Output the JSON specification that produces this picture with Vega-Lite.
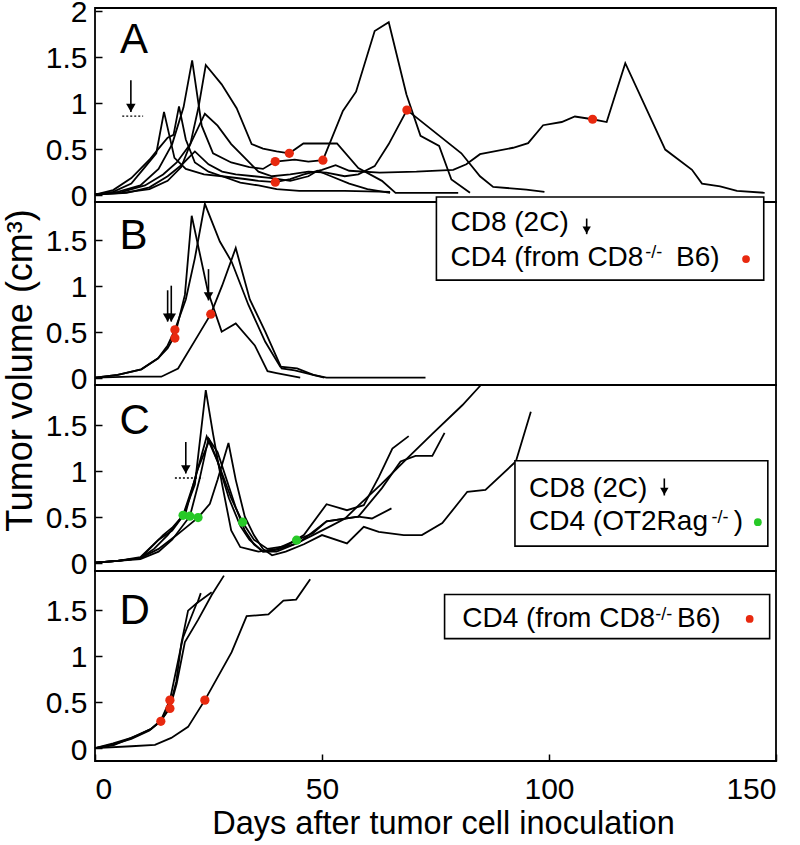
{
  "$schema": "https://vega.github.io/schema/vega-lite/v6.json",
  "padding": {"left": 1, "top": -4, "right": 0, "bottom": 0},
  "background": "white",
  "config": {
    "font": "Liberation Sans",
    "view": {"stroke": "black", "strokeWidth": 1.8},
    "axis": {"domain": false, "grid": false, "tickSize": -7, "tickColor": "black", "tickWidth": 1.5, "labelFontSize": 30, "labelColor": "black", "labelFont": "Liberation Sans", "titleFont": "Liberation Sans", "titleFontWeight": "normal", "titleColor": "black", "titleFontSize": 32}
  },
  "datasets": {
    "curves": [
      {"panel":"A","mouse":"a1","day":0,"vol":0},{"panel":"A","mouse":"a1","day":4,"vol":0.03},{"panel":"A","mouse":"a1","day":8,"vol":0.12},{"panel":"A","mouse":"a1","day":11,"vol":0.3},{"panel":"A","mouse":"a1","day":13.5,"vol":0.45},{"panel":"A","mouse":"a1","day":15.2,"vol":0.9},{"panel":"A","mouse":"a1","day":17.5,"vol":0.4},{"panel":"A","mouse":"a1","day":20,"vol":0.28},{"panel":"A","mouse":"a1","day":24,"vol":0.22},{"panel":"A","mouse":"a1","day":28,"vol":0.2},{"panel":"A","mouse":"a1","day":33,"vol":0.17},{"panel":"A","mouse":"a1","day":36,"vol":0.15},{"panel":"A","mouse":"a1","day":39.7,"vol":0.136},{"panel":"A","mouse":"a1","day":43,"vol":0.17},{"panel":"A","mouse":"a1","day":46,"vol":0.22},{"panel":"A","mouse":"a1","day":50,"vol":0.27},{"panel":"A","mouse":"a1","day":53,"vol":0.32},{"panel":"A","mouse":"a1","day":56,"vol":0.26},{"panel":"A","mouse":"a1","day":62.7,"vol":0.24},{"panel":"A","mouse":"a1","day":70.8,"vol":0.25},{"panel":"A","mouse":"a1","day":78.9,"vol":0.27},{"panel":"A","mouse":"a1","day":81.8,"vol":0.33},{"panel":"A","mouse":"a1","day":84.8,"vol":0.44},{"panel":"A","mouse":"a1","day":92.1,"vol":0.51},{"panel":"A","mouse":"a1","day":95.4,"vol":0.56},{"panel":"A","mouse":"a1","day":98.7,"vol":0.755},{"panel":"A","mouse":"a1","day":102.8,"vol":0.79},{"panel":"A","mouse":"a1","day":105.7,"vol":0.85},{"panel":"A","mouse":"a1","day":109.6,"vol":0.82},{"panel":"A","mouse":"a1","day":112.7,"vol":0.79},{"panel":"A","mouse":"a1","day":116.8,"vol":1.43},{"panel":"A","mouse":"a1","day":125.6,"vol":0.49},{"panel":"A","mouse":"a1","day":131.5,"vol":0.27},{"panel":"A","mouse":"a1","day":133.7,"vol":0.12},{"panel":"A","mouse":"a1","day":137.7,"vol":0.09},{"panel":"A","mouse":"a1","day":141.4,"vol":0.04},{"panel":"A","mouse":"a1","day":147.5,"vol":0.02},
      {"panel":"A","mouse":"a2","day":0,"vol":0},{"panel":"A","mouse":"a2","day":5,"vol":0.03},{"panel":"A","mouse":"a2","day":10,"vol":0.1},{"panel":"A","mouse":"a2","day":14,"vol":0.28},{"panel":"A","mouse":"a2","day":17,"vol":0.55},{"panel":"A","mouse":"a2","day":19.5,"vol":0.95},{"panel":"A","mouse":"a2","day":21.4,"vol":1.46},{"panel":"A","mouse":"a2","day":23.5,"vol":0.75},{"panel":"A","mouse":"a2","day":26,"vol":0.45},{"panel":"A","mouse":"a2","day":30,"vol":0.35},{"panel":"A","mouse":"a2","day":34,"vol":0.3},{"panel":"A","mouse":"a2","day":37,"vol":0.28},{"panel":"A","mouse":"a2","day":39.7,"vol":0.36},{"panel":"A","mouse":"a2","day":44,"vol":0.38},{"panel":"A","mouse":"a2","day":47,"vol":0.36},{"panel":"A","mouse":"a2","day":50.2,"vol":0.375},{"panel":"A","mouse":"a2","day":54.6,"vol":0.91},{"panel":"A","mouse":"a2","day":57.5,"vol":1.12},{"panel":"A","mouse":"a2","day":61.6,"vol":1.78},{"panel":"A","mouse":"a2","day":64.7,"vol":1.875},{"panel":"A","mouse":"a2","day":68.6,"vol":1.09},{"panel":"A","mouse":"a2","day":71.7,"vol":0.64},{"panel":"A","mouse":"a2","day":75.8,"vol":0.53},{"panel":"A","mouse":"a2","day":78.5,"vol":0.165},{"panel":"A","mouse":"a2","day":82.6,"vol":0.02},
      {"panel":"A","mouse":"a3","day":0,"vol":0},{"panel":"A","mouse":"a3","day":6,"vol":0.02},{"panel":"A","mouse":"a3","day":12,"vol":0.06},{"panel":"A","mouse":"a3","day":16,"vol":0.15},{"panel":"A","mouse":"a3","day":19,"vol":0.3},{"panel":"A","mouse":"a3","day":21,"vol":0.55},{"panel":"A","mouse":"a3","day":22.8,"vol":0.95},{"panel":"A","mouse":"a3","day":24.4,"vol":1.41},{"panel":"A","mouse":"a3","day":27.9,"vol":1.2},{"panel":"A","mouse":"a3","day":31.2,"vol":0.94},{"panel":"A","mouse":"a3","day":34.5,"vol":0.55},{"panel":"A","mouse":"a3","day":37,"vol":0.5},{"panel":"A","mouse":"a3","day":40,"vol":0.47},{"panel":"A","mouse":"a3","day":42.8,"vol":0.45},{"panel":"A","mouse":"a3","day":45.9,"vol":0.556},{"panel":"A","mouse":"a3","day":53.3,"vol":0.556},{"panel":"A","mouse":"a3","day":58,"vol":0.29},{"panel":"A","mouse":"a3","day":63.2,"vol":0.15},{"panel":"A","mouse":"a3","day":66.2,"vol":0.02},{"panel":"A","mouse":"a3","day":80,"vol":0.02},
      {"panel":"A","mouse":"a4","day":0,"vol":0},{"panel":"A","mouse":"a4","day":6,"vol":0.03},{"panel":"A","mouse":"a4","day":11,"vol":0.1},{"panel":"A","mouse":"a4","day":15,"vol":0.22},{"panel":"A","mouse":"a4","day":18,"vol":0.35},{"panel":"A","mouse":"a4","day":21,"vol":0.55},{"panel":"A","mouse":"a4","day":24.2,"vol":0.88},{"panel":"A","mouse":"a4","day":27,"vol":0.75},{"panel":"A","mouse":"a4","day":30,"vol":0.55},{"panel":"A","mouse":"a4","day":33,"vol":0.4},{"panel":"A","mouse":"a4","day":36,"vol":0.25},{"panel":"A","mouse":"a4","day":39,"vol":0.2},{"panel":"A","mouse":"a4","day":43,"vol":0.22},{"panel":"A","mouse":"a4","day":47,"vol":0.25},{"panel":"A","mouse":"a4","day":51,"vol":0.24},{"panel":"A","mouse":"a4","day":55,"vol":0.2},{"panel":"A","mouse":"a4","day":58,"vol":0.22},{"panel":"A","mouse":"a4","day":61.6,"vol":0.31},{"panel":"A","mouse":"a4","day":64.7,"vol":0.55},{"panel":"A","mouse":"a4","day":68.7,"vol":0.92},{"panel":"A","mouse":"a4","day":70,"vol":0.87},{"panel":"A","mouse":"a4","day":80.7,"vol":0.45},{"panel":"A","mouse":"a4","day":84.8,"vol":0.2},{"panel":"A","mouse":"a4","day":87.7,"vol":0.085},{"panel":"A","mouse":"a4","day":95,"vol":0.055},{"panel":"A","mouse":"a4","day":99,"vol":0.03},
      {"panel":"A","mouse":"a5","day":0,"vol":0},{"panel":"A","mouse":"a5","day":7,"vol":0.02},{"panel":"A","mouse":"a5","day":12,"vol":0.08},{"panel":"A","mouse":"a5","day":16,"vol":0.2},{"panel":"A","mouse":"a5","day":19,"vol":0.32},{"panel":"A","mouse":"a5","day":22,"vol":0.47},{"panel":"A","mouse":"a5","day":25,"vol":0.33},{"panel":"A","mouse":"a5","day":28,"vol":0.25},{"panel":"A","mouse":"a5","day":31,"vol":0.22},{"panel":"A","mouse":"a5","day":35,"vol":0.2},{"panel":"A","mouse":"a5","day":39,"vol":0.18},{"panel":"A","mouse":"a5","day":43,"vol":0.15},{"panel":"A","mouse":"a5","day":47,"vol":0.2},{"panel":"A","mouse":"a5","day":49,"vol":0.26},{"panel":"A","mouse":"a5","day":52,"vol":0.2},{"panel":"A","mouse":"a5","day":56,"vol":0.12},{"panel":"A","mouse":"a5","day":60,"vol":0.06},{"panel":"A","mouse":"a5","day":65,"vol":0.02},
      {"panel":"A","mouse":"a6","day":0,"vol":0},{"panel":"A","mouse":"a6","day":4,"vol":0.05},{"panel":"A","mouse":"a6","day":8,"vol":0.18},{"panel":"A","mouse":"a6","day":12,"vol":0.38},{"panel":"A","mouse":"a6","day":14,"vol":0.5},{"panel":"A","mouse":"a6","day":16,"vol":0.62},{"panel":"A","mouse":"a6","day":17.3,"vol":0.65},{"panel":"A","mouse":"a6","day":18.5,"vol":0.96},{"panel":"A","mouse":"a6","day":20,"vol":0.6},{"panel":"A","mouse":"a6","day":22,"vol":0.35},{"panel":"A","mouse":"a6","day":25,"vol":0.25},{"panel":"A","mouse":"a6","day":28,"vol":0.2},{"panel":"A","mouse":"a6","day":32,"vol":0.13},{"panel":"A","mouse":"a6","day":36,"vol":0.1},{"panel":"A","mouse":"a6","day":40,"vol":0.06},{"panel":"A","mouse":"a6","day":45,"vol":0.04},{"panel":"A","mouse":"a6","day":55,"vol":0.04},{"panel":"A","mouse":"a6","day":65,"vol":0.03},
      {"panel":"B","mouse":"b1","day":0,"vol":0},{"panel":"B","mouse":"b1","day":5,"vol":0.03},{"panel":"B","mouse":"b1","day":10.2,"vol":0.09},{"panel":"B","mouse":"b1","day":13.9,"vol":0.21},{"panel":"B","mouse":"b1","day":16,"vol":0.32},{"panel":"B","mouse":"b1","day":17.6,"vol":0.46},{"panel":"B","mouse":"b1","day":19.8,"vol":0.9},{"panel":"B","mouse":"b1","day":21.3,"vol":1.76},{"panel":"B","mouse":"b1","day":24.9,"vol":0.93},{"panel":"B","mouse":"b1","day":27.9,"vol":0.5},{"panel":"B","mouse":"b1","day":31,"vol":0.59},{"panel":"B","mouse":"b1","day":35.2,"vol":0.35},{"panel":"B","mouse":"b1","day":38,"vol":0.07},{"panel":"B","mouse":"b1","day":40,"vol":0.05},{"panel":"B","mouse":"b1","day":45.2,"vol":0},
      {"panel":"B","mouse":"b2","day":0,"vol":0},{"panel":"B","mouse":"b2","day":5,"vol":0.03},{"panel":"B","mouse":"b2","day":10.2,"vol":0.09},{"panel":"B","mouse":"b2","day":13.9,"vol":0.21},{"panel":"B","mouse":"b2","day":16,"vol":0.35},{"panel":"B","mouse":"b2","day":17.6,"vol":0.52},{"panel":"B","mouse":"b2","day":20,"vol":0.85},{"panel":"B","mouse":"b2","day":22,"vol":1.3},{"panel":"B","mouse":"b2","day":24.2,"vol":1.89},{"panel":"B","mouse":"b2","day":27.5,"vol":1.48},{"panel":"B","mouse":"b2","day":30.1,"vol":1.26},{"panel":"B","mouse":"b2","day":33.8,"vol":0.79},{"panel":"B","mouse":"b2","day":37.5,"vol":0.39},{"panel":"B","mouse":"b2","day":40.8,"vol":0.12},{"panel":"B","mouse":"b2","day":44.5,"vol":0.1},{"panel":"B","mouse":"b2","day":48.1,"vol":0.03},{"panel":"B","mouse":"b2","day":51,"vol":0},{"panel":"B","mouse":"b2","day":72.8,"vol":0},
      {"panel":"B","mouse":"b3","day":0,"vol":0},{"panel":"B","mouse":"b3","day":8,"vol":0.01},{"panel":"B","mouse":"b3","day":14.6,"vol":0.01},{"panel":"B","mouse":"b3","day":18.3,"vol":0.1},{"panel":"B","mouse":"b3","day":22.7,"vol":0.46},{"panel":"B","mouse":"b3","day":25.5,"vol":0.69},{"panel":"B","mouse":"b3","day":28,"vol":1.0},{"panel":"B","mouse":"b3","day":31,"vol":1.41},{"panel":"B","mouse":"b3","day":34.1,"vol":0.85},{"panel":"B","mouse":"b3","day":37.5,"vol":0.5},{"panel":"B","mouse":"b3","day":41.1,"vol":0.1},{"panel":"B","mouse":"b3","day":44,"vol":0.08},{"panel":"B","mouse":"b3","day":50.5,"vol":0},
      {"panel":"C","mouse":"c1","day":0,"vol":0},{"panel":"C","mouse":"c1","day":5,"vol":0.02},{"panel":"C","mouse":"c1","day":10,"vol":0.05},{"panel":"C","mouse":"c1","day":13,"vol":0.2},{"panel":"C","mouse":"c1","day":15,"vol":0.3},{"panel":"C","mouse":"c1","day":17,"vol":0.38},{"panel":"C","mouse":"c1","day":19.5,"vol":0.52},{"panel":"C","mouse":"c1","day":22,"vol":0.85},{"panel":"C","mouse":"c1","day":24.4,"vol":1.875},{"panel":"C","mouse":"c1","day":26,"vol":1.4},{"panel":"C","mouse":"c1","day":28,"vol":0.85},{"panel":"C","mouse":"c1","day":30,"vol":0.35},{"panel":"C","mouse":"c1","day":32,"vol":0.17},{"panel":"C","mouse":"c1","day":36,"vol":0.12},{"panel":"C","mouse":"c1","day":40,"vol":0.15},{"panel":"C","mouse":"c1","day":44.4,"vol":0.245},{"panel":"C","mouse":"c1","day":48,"vol":0.32},{"panel":"C","mouse":"c1","day":51,"vol":0.45},{"panel":"C","mouse":"c1","day":55,"vol":0.48},{"panel":"C","mouse":"c1","day":58,"vol":0.5},{"panel":"C","mouse":"c1","day":61,"vol":0.48},{"panel":"C","mouse":"c1","day":65.3,"vol":0.59},
      {"panel":"C","mouse":"c2","day":0,"vol":0},{"panel":"C","mouse":"c2","day":5,"vol":0.02},{"panel":"C","mouse":"c2","day":10,"vol":0.05},{"panel":"C","mouse":"c2","day":13,"vol":0.15},{"panel":"C","mouse":"c2","day":16,"vol":0.3},{"panel":"C","mouse":"c2","day":19.4,"vol":0.515},{"panel":"C","mouse":"c2","day":22,"vol":0.9},{"panel":"C","mouse":"c2","day":24.6,"vol":1.37},{"panel":"C","mouse":"c2","day":27,"vol":1.1},{"panel":"C","mouse":"c2","day":30,"vol":0.7},{"panel":"C","mouse":"c2","day":32.5,"vol":0.44},{"panel":"C","mouse":"c2","day":35,"vol":0.25},{"panel":"C","mouse":"c2","day":38,"vol":0.15},{"panel":"C","mouse":"c2","day":42,"vol":0.18},{"panel":"C","mouse":"c2","day":46,"vol":0.3},{"panel":"C","mouse":"c2","day":51,"vol":0.635},{"panel":"C","mouse":"c2","day":55.5,"vol":0.57},{"panel":"C","mouse":"c2","day":59.2,"vol":0.625},{"panel":"C","mouse":"c2","day":62.5,"vol":0.93},{"panel":"C","mouse":"c2","day":65.5,"vol":1.24},{"panel":"C","mouse":"c2","day":69.1,"vol":1.375},
      {"panel":"C","mouse":"c3","day":0,"vol":0},{"panel":"C","mouse":"c3","day":5,"vol":0.02},{"panel":"C","mouse":"c3","day":10,"vol":0.04},{"panel":"C","mouse":"c3","day":14,"vol":0.12},{"panel":"C","mouse":"c3","day":17,"vol":0.25},{"panel":"C","mouse":"c3","day":20.9,"vol":0.505},{"panel":"C","mouse":"c3","day":23,"vol":0.9},{"panel":"C","mouse":"c3","day":25,"vol":1.35},{"panel":"C","mouse":"c3","day":27,"vol":1.2},{"panel":"C","mouse":"c3","day":29,"vol":0.9},{"panel":"C","mouse":"c3","day":31,"vol":0.6},{"panel":"C","mouse":"c3","day":33,"vol":0.35},{"panel":"C","mouse":"c3","day":35,"vol":0.2},{"panel":"C","mouse":"c3","day":37,"vol":0.12},{"panel":"C","mouse":"c3","day":40,"vol":0.12},{"panel":"C","mouse":"c3","day":44,"vol":0.2},{"panel":"C","mouse":"c3","day":48,"vol":0.3},{"panel":"C","mouse":"c3","day":52,"vol":0.4},{"panel":"C","mouse":"c3","day":55.1,"vol":0.48},{"panel":"C","mouse":"c3","day":58,"vol":0.62},{"panel":"C","mouse":"c3","day":63,"vol":0.85},{"panel":"C","mouse":"c3","day":69.1,"vol":1.15},{"panel":"C","mouse":"c3","day":74.3,"vol":1.4},{"panel":"C","mouse":"c3","day":80.9,"vol":1.71},{"panel":"C","mouse":"c3","day":85,"vol":1.93},
      {"panel":"C","mouse":"c4","day":0,"vol":0},{"panel":"C","mouse":"c4","day":5,"vol":0.02},{"panel":"C","mouse":"c4","day":10,"vol":0.05},{"panel":"C","mouse":"c4","day":14,"vol":0.15},{"panel":"C","mouse":"c4","day":18,"vol":0.3},{"panel":"C","mouse":"c4","day":22.7,"vol":0.49},{"panel":"C","mouse":"c4","day":25.3,"vol":0.64},{"panel":"C","mouse":"c4","day":27,"vol":0.9},{"panel":"C","mouse":"c4","day":29.4,"vol":1.3},{"panel":"C","mouse":"c4","day":31,"vol":0.9},{"panel":"C","mouse":"c4","day":33,"vol":0.5},{"panel":"C","mouse":"c4","day":35,"vol":0.3},{"panel":"C","mouse":"c4","day":37,"vol":0.15},{"panel":"C","mouse":"c4","day":39,"vol":0.08},{"panel":"C","mouse":"c4","day":42,"vol":0.12},{"panel":"C","mouse":"c4","day":46,"vol":0.2},{"panel":"C","mouse":"c4","day":50,"vol":0.3},{"panel":"C","mouse":"c4","day":55.5,"vol":0.21},{"panel":"C","mouse":"c4","day":59.2,"vol":0.39},{"panel":"C","mouse":"c4","day":62.5,"vol":0.335},{"panel":"C","mouse":"c4","day":68,"vol":0.3},{"panel":"C","mouse":"c4","day":72,"vol":0.3},{"panel":"C","mouse":"c4","day":76.5,"vol":0.43},{"panel":"C","mouse":"c4","day":82,"vol":0.77},{"panel":"C","mouse":"c4","day":86,"vol":0.79},{"panel":"C","mouse":"c4","day":92.7,"vol":1.1},{"panel":"C","mouse":"c4","day":96,"vol":1.64},
      {"panel":"C","mouse":"c5","day":0,"vol":0},{"panel":"C","mouse":"c5","day":5,"vol":0.02},{"panel":"C","mouse":"c5","day":10,"vol":0.06},{"panel":"C","mouse":"c5","day":14,"vol":0.25},{"panel":"C","mouse":"c5","day":17,"vol":0.35},{"panel":"C","mouse":"c5","day":20,"vol":0.55},{"panel":"C","mouse":"c5","day":22.5,"vol":1.0},{"panel":"C","mouse":"c5","day":25.2,"vol":1.33},{"panel":"C","mouse":"c5","day":27,"vol":1.1},{"panel":"C","mouse":"c5","day":29.5,"vol":0.7},{"panel":"C","mouse":"c5","day":32,"vol":0.4},{"panel":"C","mouse":"c5","day":34,"vol":0.25},{"panel":"C","mouse":"c5","day":37,"vol":0.12},{"panel":"C","mouse":"c5","day":40,"vol":0.14},{"panel":"C","mouse":"c5","day":45,"vol":0.22},{"panel":"C","mouse":"c5","day":51,"vol":0.45},{"panel":"C","mouse":"c5","day":58,"vol":0.5},{"panel":"C","mouse":"c5","day":63.2,"vol":0.81},{"panel":"C","mouse":"c5","day":67.3,"vol":1.1},{"panel":"C","mouse":"c5","day":70.6,"vol":1.16},{"panel":"C","mouse":"c5","day":74.3,"vol":1.16},{"panel":"C","mouse":"c5","day":77,"vol":1.41},
      {"panel":"D","mouse":"d1","day":0,"vol":0},{"panel":"D","mouse":"d1","day":4,"vol":0.05},{"panel":"D","mouse":"d1","day":8,"vol":0.11},{"panel":"D","mouse":"d1","day":12.4,"vol":0.21},{"panel":"D","mouse":"d1","day":14.5,"vol":0.29},{"panel":"D","mouse":"d1","day":16.5,"vol":0.45},{"panel":"D","mouse":"d1","day":17.9,"vol":0.72},{"panel":"D","mouse":"d1","day":19,"vol":1.13},{"panel":"D","mouse":"d1","day":20.5,"vol":1.49},{"panel":"D","mouse":"d1","day":22.6,"vol":1.58},{"panel":"D","mouse":"d1","day":23.3,"vol":1.68},
      {"panel":"D","mouse":"d2","day":0,"vol":0},{"panel":"D","mouse":"d2","day":4,"vol":0.04},{"panel":"D","mouse":"d2","day":8,"vol":0.1},{"panel":"D","mouse":"d2","day":12,"vol":0.19},{"panel":"D","mouse":"d2","day":14.5,"vol":0.3},{"panel":"D","mouse":"d2","day":16.5,"vol":0.52},{"panel":"D","mouse":"d2","day":18.7,"vol":1.04},{"panel":"D","mouse":"d2","day":19.4,"vol":1.2},{"panel":"D","mouse":"d2","day":22.4,"vol":1.57},{"panel":"D","mouse":"d2","day":25.7,"vol":1.69},
      {"panel":"D","mouse":"d3","day":0,"vol":0},{"panel":"D","mouse":"d3","day":4,"vol":0.03},{"panel":"D","mouse":"d3","day":9.5,"vol":0.14},{"panel":"D","mouse":"d3","day":12.4,"vol":0.21},{"panel":"D","mouse":"d3","day":14.5,"vol":0.3},{"panel":"D","mouse":"d3","day":16.5,"vol":0.43},{"panel":"D","mouse":"d3","day":18,"vol":0.7},{"panel":"D","mouse":"d3","day":19.8,"vol":1.15},{"panel":"D","mouse":"d3","day":22.7,"vol":1.39},{"panel":"D","mouse":"d3","day":25.7,"vol":1.66},{"panel":"D","mouse":"d3","day":28.4,"vol":1.87},
      {"panel":"D","mouse":"d4","day":0,"vol":0},{"panel":"D","mouse":"d4","day":8,"vol":0.02},{"panel":"D","mouse":"d4","day":13.2,"vol":0.035},{"panel":"D","mouse":"d4","day":16.8,"vol":0.11},{"panel":"D","mouse":"d4","day":20.5,"vol":0.23},{"panel":"D","mouse":"d4","day":24.2,"vol":0.52},{"panel":"D","mouse":"d4","day":30.1,"vol":1.04},{"panel":"D","mouse":"d4","day":33.4,"vol":1.43},{"panel":"D","mouse":"d4","day":38.2,"vol":1.45},{"panel":"D","mouse":"d4","day":41.5,"vol":1.6},{"panel":"D","mouse":"d4","day":44.3,"vol":1.61},{"panel":"D","mouse":"d4","day":47.4,"vol":1.83}
    ],
    "dots": [
      {"panel":"A","day":39.7,"vol":0.36,"cells":"CD4 (from CD8-/- B6)"},{"panel":"A","day":42.8,"vol":0.45,"cells":"CD4 (from CD8-/- B6)"},{"panel":"A","day":50.2,"vol":0.375,"cells":"CD4 (from CD8-/- B6)"},{"panel":"A","day":39.7,"vol":0.136,"cells":"CD4 (from CD8-/- B6)"},{"panel":"A","day":68.7,"vol":0.92,"cells":"CD4 (from CD8-/- B6)"},{"panel":"A","day":109.6,"vol":0.82,"cells":"CD4 (from CD8-/- B6)"},
      {"panel":"B","day":17.6,"vol":0.52,"cells":"CD4 (from CD8-/- B6)"},{"panel":"B","day":17.6,"vol":0.43,"cells":"CD4 (from CD8-/- B6)"},{"panel":"B","day":25.5,"vol":0.69,"cells":"CD4 (from CD8-/- B6)"},
      {"panel":"C","day":19.4,"vol":0.515,"cells":"CD4 (OT2Rag-/-)"},{"panel":"C","day":20.9,"vol":0.505,"cells":"CD4 (OT2Rag-/-)"},{"panel":"C","day":22.7,"vol":0.49,"cells":"CD4 (OT2Rag-/-)"},{"panel":"C","day":32.5,"vol":0.44,"cells":"CD4 (OT2Rag-/-)"},{"panel":"C","day":44.4,"vol":0.245,"cells":"CD4 (OT2Rag-/-)"},
      {"panel":"D","day":14.5,"vol":0.29,"cells":"CD4 (from CD8-/- B6)"},{"panel":"D","day":16.5,"vol":0.52,"cells":"CD4 (from CD8-/- B6)"},{"panel":"D","day":16.5,"vol":0.43,"cells":"CD4 (from CD8-/- B6)"},{"panel":"D","day":24.2,"vol":0.52,"cells":"CD4 (from CD8-/- B6)"}
    ],
    "arrows": [
      {"panel":"A","day":7.9,"top":1.245,"tip":0.9},
      {"panel":"B","day":16.0,"top":0.95,"tip":0.61},{"panel":"B","day":16.8,"top":1.0,"tip":0.61},{"panel":"B","day":25.0,"top":1.18,"tip":0.84},
      {"panel":"C","day":20.0,"top":1.31,"tip":0.97},
      {"panel":"B","day":108.3,"top":1.73,"tip":1.56},
      {"panel":"C","day":125.4,"top":0.915,"tip":0.73}
    ],
    "dotted": [
      {"panel":"A","day":6,"day2":10.6,"vol":0.853},
      {"panel":"C","day":17.6,"day2":23.8,"vol":0.92}
    ],
    "letters": [
      {"panel":"A","day":5.5,"vol":1.54,"label":"A"},
      {"panel":"B","day":5.4,"vol":1.4,"label":"B"},
      {"panel":"C","day":5.4,"vol":1.4,"label":"C"},
      {"panel":"D","day":5.4,"vol":1.35,"label":"D"}
    ],
    "legendBox": [
      {"panel":"B","x1":75.2,"x2":147.3,"y1":1.965,"y2":1.06},
      {"panel":"C","x1":92.5,"x2":148.2,"y1":1.107,"y2":0.18},
      {"panel":"D","x1":77,"x2":148.6,"y1":1.665,"y2":1.187}
    ],
    "legendText": [
      {"panel":"B","day":78.3,"vol":1.59,"text":"CD8 (2C)"},
      {"panel":"B","day":78.3,"vol":1.21,"text":"CD4 (from CD8"},
      {"panel":"B","day":128,"vol":1.21,"text":"B6)"},
      {"panel":"C","day":95.6,"vol":0.715,"text":"CD8 (2C)"},
      {"panel":"C","day":95.6,"vol":0.36,"text":"CD4 (OT2Rag"},
      {"panel":"C","day":140.7,"vol":0.36,"text":")"},
      {"panel":"D","day":80.9,"vol":1.31,"text":"CD4 (from CD8"},
      {"panel":"D","day":128.2,"vol":1.31,"text":"B6)"}
    ],
    "legendSup": [
      {"panel":"B","day":121.2,"vol":1.3,"text":"-/-"},
      {"panel":"C","day":135.8,"vol":0.43,"text":"-/-"},
      {"panel":"D","day":123.4,"vol":1.386,"text":"-/-"}
    ],
    "legendDots": [
      {"panel":"B","day":143.4,"vol":1.29,"cells":"CD4 (from CD8-/- B6)"},
      {"panel":"C","day":146,"vol":0.44,"cells":"CD4 (OT2Rag-/-)"},
      {"panel":"D","day":144.2,"vol":1.4,"cells":"CD4 (from CD8-/- B6)"}
    ]
  },
  "vconcat": [
    {
      "width": 681, "height": 194,
      "layer": [
        {"data": {"name": "curves"}, "transform": [{"filter": "datum.panel === 'A'"}], "mark": {"type": "line", "color": "black", "strokeWidth": 1.8}, "encoding": {"x": {"field": "day", "type": "quantitative", "scale": {"domain": [0, 150], "nice": false}, "axis": null}, "y": {"field": "vol", "type": "quantitative", "scale": {"domain": [-0.08, 2.03], "nice": false, "zero": false}, "axis": {"values": [0, 0.5, 1, 1.5, 2], "format": "~g", "title": null, "labelPadding": 15, "labelOffset": 2}}, "detail": {"field": "mouse"}}},
        {"data": {"name": "dotted"}, "transform": [{"filter": "datum.panel === 'A'"}], "mark": {"type": "rule", "color": "black", "strokeWidth": 1.3, "strokeDash": [2, 2]}, "encoding": {"x": {"field": "day", "type": "quantitative"}, "x2": {"field": "day2"}, "y": {"field": "vol", "type": "quantitative"}}},
        {"data": {"name": "arrows"}, "transform": [{"filter": "datum.panel === 'A'"}], "mark": {"type": "rule", "color": "black", "strokeWidth": 1.6}, "encoding": {"x": {"field": "day", "type": "quantitative"}, "y": {"field": "top", "type": "quantitative"}, "y2": {"field": "tip"}}},
        {"data": {"name": "arrows"}, "transform": [{"filter": "datum.panel === 'A'"}], "mark": {"type": "point", "shape": "triangle-down", "filled": true, "color": "black", "opacity": 1, "size": 90, "yOffset": -4}, "encoding": {"x": {"field": "day", "type": "quantitative"}, "y": {"field": "tip", "type": "quantitative"}}},
        {"data": {"name": "dots"}, "transform": [{"filter": "datum.panel === 'A'"}], "mark": {"type": "circle", "opacity": 1, "size": 85}, "encoding": {"x": {"field": "day", "type": "quantitative"}, "y": {"field": "vol", "type": "quantitative"}, "color": {"field": "cells", "type": "nominal", "scale": {"domain": ["CD4 (from CD8-/- B6)", "CD4 (OT2Rag-/-)"], "range": ["#e8290f", "#27c927"]}, "legend": null}}},
        {"data": {"name": "letters"}, "transform": [{"filter": "datum.panel === 'A'"}], "mark": {"type": "text", "fontSize": 42, "align": "left", "baseline": "alphabetic", "color": "black"}, "encoding": {"x": {"field": "day", "type": "quantitative"}, "y": {"field": "vol", "type": "quantitative"}, "text": {"field": "label"}}}
      ]
    },
    {
      "width": 681, "height": 183,
      "layer": [
        {"data": {"name": "curves"}, "transform": [{"filter": "datum.panel === 'B'"}], "mark": {"type": "line", "color": "black", "strokeWidth": 1.8}, "encoding": {"x": {"field": "day", "type": "quantitative", "scale": {"domain": [0, 150], "nice": false}, "axis": null}, "y": {"field": "vol", "type": "quantitative", "scale": {"domain": [-0.08, 1.91], "nice": false, "zero": false}, "axis": {"values": [0, 0.5, 1, 1.5], "format": "~g", "title": null, "labelPadding": 15, "labelOffset": 2}}, "detail": {"field": "mouse"}}},
        {"data": {"name": "arrows"}, "transform": [{"filter": "datum.panel === 'B' && datum.day < 100"}], "mark": {"type": "rule", "color": "black", "strokeWidth": 1.6}, "encoding": {"x": {"field": "day", "type": "quantitative"}, "y": {"field": "top", "type": "quantitative"}, "y2": {"field": "tip"}}},
        {"data": {"name": "arrows"}, "transform": [{"filter": "datum.panel === 'B' && datum.day < 100"}], "mark": {"type": "point", "shape": "triangle-down", "filled": true, "color": "black", "opacity": 1, "size": 90, "yOffset": -4}, "encoding": {"x": {"field": "day", "type": "quantitative"}, "y": {"field": "tip", "type": "quantitative"}}},
        {"data": {"name": "dots"}, "transform": [{"filter": "datum.panel === 'B'"}], "mark": {"type": "circle", "opacity": 1, "size": 85}, "encoding": {"x": {"field": "day", "type": "quantitative"}, "y": {"field": "vol", "type": "quantitative"}, "color": {"field": "cells", "type": "nominal", "scale": {"domain": ["CD4 (from CD8-/- B6)", "CD4 (OT2Rag-/-)"], "range": ["#e8290f", "#27c927"]}, "legend": null}}},
        {"data": {"name": "letters"}, "transform": [{"filter": "datum.panel === 'B'"}], "mark": {"type": "text", "fontSize": 42, "align": "left", "baseline": "alphabetic", "color": "black"}, "encoding": {"x": {"field": "day", "type": "quantitative"}, "y": {"field": "vol", "type": "quantitative"}, "text": {"field": "label"}}},
        {"data": {"name": "legendBox"}, "transform": [{"filter": "datum.panel === 'B'"}], "mark": {"type": "rect", "fill": "white", "stroke": "black", "strokeWidth": 1.6}, "encoding": {"x": {"field": "x1", "type": "quantitative"}, "x2": {"field": "x2"}, "y": {"field": "y1", "type": "quantitative"}, "y2": {"field": "y2"}}},
        {"data": {"name": "legendText"}, "transform": [{"filter": "datum.panel === 'B'"}], "mark": {"type": "text", "fontSize": 28, "align": "left", "baseline": "alphabetic", "color": "black"}, "encoding": {"x": {"field": "day", "type": "quantitative"}, "y": {"field": "vol", "type": "quantitative"}, "text": {"field": "text"}}},
        {"data": {"name": "legendSup"}, "transform": [{"filter": "datum.panel === 'B'"}], "mark": {"type": "text", "fontSize": 18, "align": "left", "baseline": "alphabetic", "color": "black"}, "encoding": {"x": {"field": "day", "type": "quantitative"}, "y": {"field": "vol", "type": "quantitative"}, "text": {"field": "text"}}},
        {"data": {"name": "legendDots"}, "transform": [{"filter": "datum.panel === 'B'"}], "mark": {"type": "circle", "opacity": 1, "size": 60}, "encoding": {"x": {"field": "day", "type": "quantitative"}, "y": {"field": "vol", "type": "quantitative"}, "color": {"field": "cells", "type": "nominal", "scale": {"domain": ["CD4 (from CD8-/- B6)", "CD4 (OT2Rag-/-)"], "range": ["#e8290f", "#27c927"]}, "legend": null}}},
        {"data": {"name": "arrows"}, "transform": [{"filter": "datum.panel === 'B' && datum.day > 100"}], "mark": {"type": "rule", "color": "black", "strokeWidth": 1.6}, "encoding": {"x": {"field": "day", "type": "quantitative"}, "y": {"field": "top", "type": "quantitative"}, "y2": {"field": "tip"}}},
        {"data": {"name": "arrows"}, "transform": [{"filter": "datum.panel === 'B' && datum.day > 100"}], "mark": {"type": "point", "shape": "triangle-down", "filled": true, "color": "black", "opacity": 1, "size": 70, "yOffset": -4}, "encoding": {"x": {"field": "day", "type": "quantitative"}, "y": {"field": "tip", "type": "quantitative"}}}
      ]
    },
    {
      "width": 681, "height": 186,
      "layer": [
        {"data": {"name": "curves"}, "transform": [{"filter": "datum.panel === 'C'"}], "mark": {"type": "line", "color": "black", "strokeWidth": 1.8}, "encoding": {"x": {"field": "day", "type": "quantitative", "scale": {"domain": [0, 150], "nice": false}, "axis": null}, "y": {"field": "vol", "type": "quantitative", "scale": {"domain": [-0.09, 1.93], "nice": false, "zero": false}, "axis": {"values": [0, 0.5, 1, 1.5], "format": "~g", "title": "Tumor volume (cm³)", "titleFontSize": 36, "titleAnchor": "middle", "titleY": -15, "titlePadding": 6, "labelPadding": 15, "labelOffset": 2}}, "detail": {"field": "mouse"}}},
        {"data": {"name": "dotted"}, "transform": [{"filter": "datum.panel === 'C'"}], "mark": {"type": "rule", "color": "black", "strokeWidth": 1.3, "strokeDash": [2, 2]}, "encoding": {"x": {"field": "day", "type": "quantitative"}, "x2": {"field": "day2"}, "y": {"field": "vol", "type": "quantitative"}}},
        {"data": {"name": "arrows"}, "transform": [{"filter": "datum.panel === 'C' && datum.day < 100"}], "mark": {"type": "rule", "color": "black", "strokeWidth": 1.6}, "encoding": {"x": {"field": "day", "type": "quantitative"}, "y": {"field": "top", "type": "quantitative"}, "y2": {"field": "tip"}}},
        {"data": {"name": "arrows"}, "transform": [{"filter": "datum.panel === 'C' && datum.day < 100"}], "mark": {"type": "point", "shape": "triangle-down", "filled": true, "color": "black", "opacity": 1, "size": 90, "yOffset": -4}, "encoding": {"x": {"field": "day", "type": "quantitative"}, "y": {"field": "tip", "type": "quantitative"}}},
        {"data": {"name": "dots"}, "transform": [{"filter": "datum.panel === 'C'"}], "mark": {"type": "circle", "opacity": 1, "size": 85}, "encoding": {"x": {"field": "day", "type": "quantitative"}, "y": {"field": "vol", "type": "quantitative"}, "color": {"field": "cells", "type": "nominal", "scale": {"domain": ["CD4 (from CD8-/- B6)", "CD4 (OT2Rag-/-)"], "range": ["#e8290f", "#27c927"]}, "legend": null}}},
        {"data": {"name": "letters"}, "transform": [{"filter": "datum.panel === 'C'"}], "mark": {"type": "text", "fontSize": 42, "align": "left", "baseline": "alphabetic", "color": "black"}, "encoding": {"x": {"field": "day", "type": "quantitative"}, "y": {"field": "vol", "type": "quantitative"}, "text": {"field": "label"}}},
        {"data": {"name": "legendBox"}, "transform": [{"filter": "datum.panel === 'C'"}], "mark": {"type": "rect", "fill": "white", "stroke": "black", "strokeWidth": 1.6}, "encoding": {"x": {"field": "x1", "type": "quantitative"}, "x2": {"field": "x2"}, "y": {"field": "y1", "type": "quantitative"}, "y2": {"field": "y2"}}},
        {"data": {"name": "legendText"}, "transform": [{"filter": "datum.panel === 'C'"}], "mark": {"type": "text", "fontSize": 28, "align": "left", "baseline": "alphabetic", "color": "black"}, "encoding": {"x": {"field": "day", "type": "quantitative"}, "y": {"field": "vol", "type": "quantitative"}, "text": {"field": "text"}}},
        {"data": {"name": "legendSup"}, "transform": [{"filter": "datum.panel === 'C'"}], "mark": {"type": "text", "fontSize": 18, "align": "left", "baseline": "alphabetic", "color": "black"}, "encoding": {"x": {"field": "day", "type": "quantitative"}, "y": {"field": "vol", "type": "quantitative"}, "text": {"field": "text"}}},
        {"data": {"name": "legendDots"}, "transform": [{"filter": "datum.panel === 'C'"}], "mark": {"type": "circle", "opacity": 1, "size": 60}, "encoding": {"x": {"field": "day", "type": "quantitative"}, "y": {"field": "vol", "type": "quantitative"}, "color": {"field": "cells", "type": "nominal", "scale": {"domain": ["CD4 (from CD8-/- B6)", "CD4 (OT2Rag-/-)"], "range": ["#e8290f", "#27c927"]}, "legend": null}}},
        {"data": {"name": "arrows"}, "transform": [{"filter": "datum.panel === 'C' && datum.day > 100"}], "mark": {"type": "rule", "color": "black", "strokeWidth": 1.6}, "encoding": {"x": {"field": "day", "type": "quantitative"}, "y": {"field": "top", "type": "quantitative"}, "y2": {"field": "tip"}}},
        {"data": {"name": "arrows"}, "transform": [{"filter": "datum.panel === 'C' && datum.day > 100"}], "mark": {"type": "point", "shape": "triangle-down", "filled": true, "color": "black", "opacity": 1, "size": 70, "yOffset": -4}, "encoding": {"x": {"field": "day", "type": "quantitative"}, "y": {"field": "tip", "type": "quantitative"}}}
      ]
    },
    {
      "width": 681, "height": 190,
      "layer": [
        {"data": {"name": "curves"}, "transform": [{"filter": "datum.panel === 'D'"}], "mark": {"type": "line", "color": "black", "strokeWidth": 1.8}, "encoding": {"x": {"field": "day", "type": "quantitative", "scale": {"domain": [0, 150], "nice": false}, "axis": {"values": [0, 50, 100, 150], "title": "Days after tumor cell inoculation", "titleFontSize": 32.5, "titleX": 348, "labelPadding": 20, "titlePadding": 3}}, "y": {"field": "vol", "type": "quantitative", "scale": {"domain": [-0.14, 1.92], "nice": false, "zero": false}, "axis": {"values": [0, 0.5, 1, 1.5], "format": "~g", "title": null, "labelPadding": 15, "labelOffset": 2}}, "detail": {"field": "mouse"}}},
        {"data": {"name": "dots"}, "transform": [{"filter": "datum.panel === 'D'"}], "mark": {"type": "circle", "opacity": 1, "size": 85}, "encoding": {"x": {"field": "day", "type": "quantitative"}, "y": {"field": "vol", "type": "quantitative"}, "color": {"field": "cells", "type": "nominal", "scale": {"domain": ["CD4 (from CD8-/- B6)", "CD4 (OT2Rag-/-)"], "range": ["#e8290f", "#27c927"]}, "legend": null}}},
        {"data": {"name": "letters"}, "transform": [{"filter": "datum.panel === 'D'"}], "mark": {"type": "text", "fontSize": 42, "align": "left", "baseline": "alphabetic", "color": "black"}, "encoding": {"x": {"field": "day", "type": "quantitative"}, "y": {"field": "vol", "type": "quantitative"}, "text": {"field": "label"}}},
        {"data": {"name": "legendBox"}, "transform": [{"filter": "datum.panel === 'D'"}], "mark": {"type": "rect", "fill": "white", "stroke": "black", "strokeWidth": 1.6}, "encoding": {"x": {"field": "x1", "type": "quantitative"}, "x2": {"field": "x2"}, "y": {"field": "y1", "type": "quantitative"}, "y2": {"field": "y2"}}},
        {"data": {"name": "legendText"}, "transform": [{"filter": "datum.panel === 'D'"}], "mark": {"type": "text", "fontSize": 28, "align": "left", "baseline": "alphabetic", "color": "black"}, "encoding": {"x": {"field": "day", "type": "quantitative"}, "y": {"field": "vol", "type": "quantitative"}, "text": {"field": "text"}}},
        {"data": {"name": "legendSup"}, "transform": [{"filter": "datum.panel === 'D'"}], "mark": {"type": "text", "fontSize": 18, "align": "left", "baseline": "alphabetic", "color": "black"}, "encoding": {"x": {"field": "day", "type": "quantitative"}, "y": {"field": "vol", "type": "quantitative"}, "text": {"field": "text"}}},
        {"data": {"name": "legendDots"}, "transform": [{"filter": "datum.panel === 'D'"}], "mark": {"type": "circle", "opacity": 1, "size": 60}, "encoding": {"x": {"field": "day", "type": "quantitative"}, "y": {"field": "vol", "type": "quantitative"}, "color": {"field": "cells", "type": "nominal", "scale": {"domain": ["CD4 (from CD8-/- B6)", "CD4 (OT2Rag-/-)"], "range": ["#e8290f", "#27c927"]}, "legend": null}}}
      ]
    }
  ],
  "spacing": 0,
  "bounds": "flush",
  "resolve": {"scale": {"x": "independent", "y": "independent", "color": "shared"}}
}
